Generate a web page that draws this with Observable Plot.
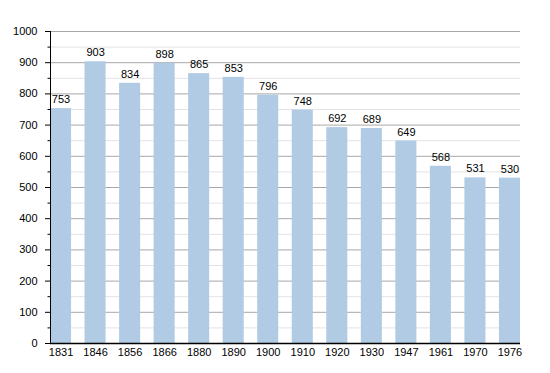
<!DOCTYPE html>
<html>
<head>
<meta charset="utf-8">
<script src="https://cdn.jsdelivr.net/npm/d3@7"></script>
<script src="https://cdn.jsdelivr.net/npm/@observablehq/plot@0.6"></script>
<style>
  html, body { margin: 0; padding: 0; background: #fff; }
  svg { display: block; }
</style>
</head>
<body>
<div id="chart"></div>
<script>
const years = ["1831","1846","1856","1866","1880","1890","1900","1910","1920","1930","1947","1961","1970","1976"];
const population = [753, 903, 834, 898, 865, 853, 796, 748, 692, 689, 649, 568, 531, 530];
const majorTicks = [0, 100, 200, 300, 400, 500, 600, 700, 800, 900, 1000];
const minorTicks = [50, 150, 250, 350, 450, 550, 650, 750, 850, 950];

const data = years.map((y, i) => ({year: y, value: population[i]}));

const chart = Plot.plot({
  width: 550,
  height: 373,
  marginLeft: 50,
  marginRight: 30,
  marginTop: 31,
  marginBottom: 30,
  style: {fontFamily: "'Liberation Sans', Arial, sans-serif", fontSize: "11px", background: "#fff", color: "#000"},
  x: {domain: years, paddingInner: 0.39, paddingOuter: 0, round: false, label: null},
  y: {domain: [0, 1000], label: null},
  marks: [
    Plot.ruleY(minorTicks, {stroke: "#e3e3e3", strokeOpacity: 1, strokeWidth: 1}),
    Plot.ruleY(majorTicks.filter(d => d > 0), {stroke: "#a8a8a8", strokeOpacity: 1, strokeWidth: 1}),
    Plot.barY(data, {x: "year", y: "value", fill: "#b2cbe5"}),
    Plot.text(data, {x: "year", y: "value", text: d => String(d.value), dy: -9, fill: "#000", fontSize: 11}),
    Plot.axisY(majorTicks, {tickSize: 5, tickPadding: 8, tickFormat: d => String(d), fontSize: 11, label: null, stroke: "#000"}),
    Plot.axisY(minorTicks, {tickSize: 2.5, tickFormat: () => "", label: null, stroke: "#000"}),
    Plot.frame({anchor: "left", stroke: "#000"}),
    Plot.axisX({tickSize: 0, tickPadding: 5, fontSize: 11, label: null}),
    Plot.ruleY([0], {stroke: "#000", strokeWidth: 1.5})
  ]
});
document.getElementById("chart").appendChild(chart);
</script>
</body>
</html>
